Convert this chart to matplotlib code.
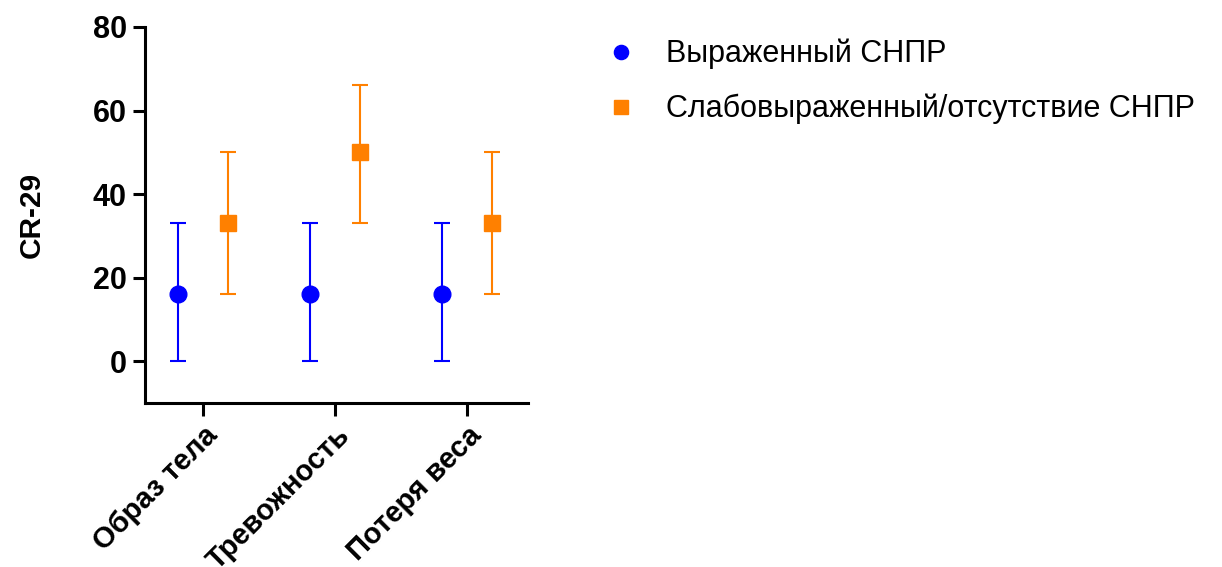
import numpy as np
import matplotlib.pyplot as plt

plt.rcParams['font.family'] = ['Liberation Sans', 'DejaVu Sans']

categories = ['Образ тела', 'Тревожность', 'Потеря веса']

# median with min-max range for each group
severe_mid = [16, 16, 16]
severe_low = [0, 0, 0]
severe_high = [33, 33, 33]

mild_mid = [33, 50, 33]
mild_low = [16, 33, 16]
mild_high = [50, 66, 50]

labels = ['Выраженный СНПР', 'Слабовыраженный/отсутствие СНПР']


def yerr(mid, low, high):
    mid = np.array(mid)
    return [mid - np.array(low), np.array(high) - mid]


fig = plt.figure(figsize=(12.22, 5.67), dpi=100)
ax = fig.add_axes([0.1187, 0.2892, 0.3134, 0.6632])

x = np.arange(len(categories))
off = 0.19

ax.errorbar(x - off, severe_mid, yerr=yerr(severe_mid, severe_low, severe_high),
            fmt='o', color='#0000FF', ms=12, elinewidth=1.5, capsize=6,
            capthick=1.5, label=labels[0])
ax.errorbar(x + off, mild_mid, yerr=yerr(mild_mid, mild_low, mild_high),
            fmt='s', color='#FF8000', ms=12, elinewidth=1.5, capsize=6,
            capthick=1.5, label=labels[1])

ax.set_xlim(-0.44, 2.46)
ax.set_ylim(-10, 80)
ax.set_yticks([0, 20, 40, 60, 80])
ax.set_xticks(x)
ax.set_xticklabels(categories, rotation=45, ha='right', rotation_mode='anchor',
                   fontsize=21, fontweight='bold')
for t in ax.get_yticklabels():
    t.set_fontsize(22)
    t.set_fontweight('bold')

ax.set_ylabel('CR-29', fontsize=21.5, fontweight='bold', labelpad=34)

for side in ['top', 'right']:
    ax.spines[side].set_visible(False)
for side in ['left', 'bottom']:
    ax.spines[side].set_linewidth(2.2)
ax.tick_params(width=2.2, length=9, pad=4)

handles, lbls = ax.get_legend_handles_labels()
handles = [h[0] for h in handles]
fig.legend(handles, lbls, loc='upper left', bbox_to_anchor=(0.4735, 0.98),
           frameon=False, fontsize=22, handletextpad=0.95, labelspacing=0.8,
           handlelength=1.0, markerscale=0.85)

fig.savefig('out.png', dpi=100)
